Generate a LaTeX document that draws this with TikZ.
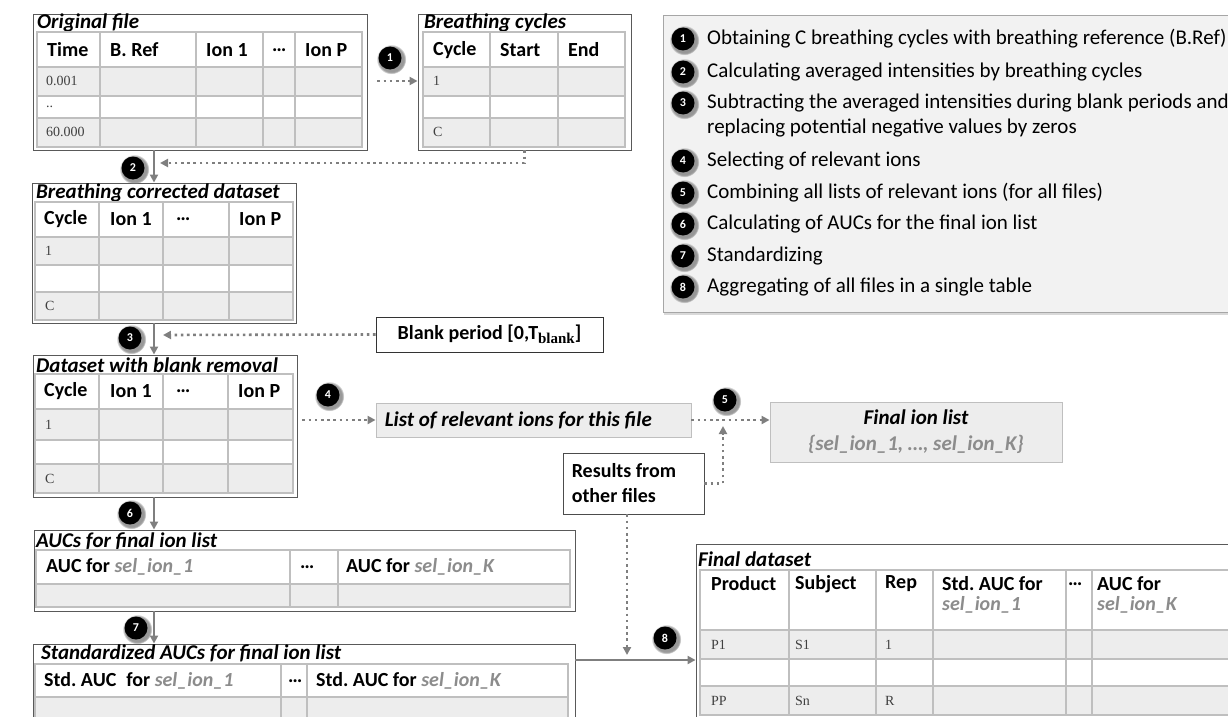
\documentclass[tikz,border=0pt]{standalone}
\usepackage{fontspec}
\setmainfont{Carlito}
\newfontfamily\cellfont{Liberation Serif}
\usetikzlibrary{arrows.meta,shadows}
\definecolor{cellgray}{HTML}{EDEDED}
\definecolor{gridgray}{HTML}{BFBFBF}
\definecolor{boxgray}{HTML}{595959}
\definecolor{flowgray}{HTML}{7F7F7F}
\definecolor{selgray}{HTML}{8C8C8C}
\definecolor{legendbg}{HTML}{F2F2F2}
\newcommand{\selion}[1]{\textcolor{selgray}{\itshape #1}}
\newcommand{\dtable}[7]{%
  \fill[cellgray] (#1,#4) rectangle (#2,#5);
  \fill[cellgray] (#1,#6) rectangle (#2,#7);
  \draw[grid] (#1,#3) rectangle (#2,#7);
  \draw[grid, line width=2pt] (#1,#4) -- (#2,#4);
  \draw[grid] (#1,#5) -- (#2,#5) (#1,#6) -- (#2,#6);}
\newcommand{\dcols}[3]{\foreach \cx in {#1} \draw[grid] (\cx,#2) -- (\cx,#3);}
\begin{document}
\begin{tikzpicture}[>={Triangle[length=8pt,width=8pt]}, x=1pt, y=-1pt,
  tablebox/.style={draw=boxgray, line width=0.9pt, fill=white, inner sep=0pt},
  grid/.style={draw=gridgray, line width=1.2pt},
  title/.style={anchor=west, inner sep=0pt, font=\fontsize{21}{25}\selectfont\bfseries\itshape},
  head/.style={anchor=west, inner sep=0pt, font=\fontsize{20}{24}\selectfont\bfseries},
  cell/.style={anchor=west, inner sep=0pt, font=\fontsize{14}{16}\selectfont\cellfont, text=black!75},
  badge/.style={circle, fill=black, text=white, minimum size=23pt, inner sep=0pt,
    font=\fontsize{12}{12}\selectfont\bfseries,
    circular drop shadow={shadow xshift=1pt, shadow yshift=-1pt, shadow scale=1.3, opacity=0.8}},
  flow/.style={->, draw=flowgray, line width=2pt},
  dotflow/.style={->, draw=flowgray, line width=2.6pt, dash pattern=on 2.6pt off 3.6pt},
  legtext/.style={anchor=west, inner sep=0pt, align=left, font=\fontsize{21}{25}\selectfont}]
\useasboundingbox (0,0) rectangle (1228,717);
\clip (0,0) rectangle (1228,717);

% original file
\node[tablebox, minimum width=334pt, minimum height=136pt] (orig) at (200,82) {};
\node[title] (orig-t) at (37,23) {Original file};
\dtable{37}{362}{32}{67}{96}{118}{147}
\dcols{100,196,263,295}{32}{147}
\node[head] (orig-h1) at (47,50) {Time};
\node[head] (orig-h2) at (110,50) {B. Ref};
\node[head] (orig-h3) at (206,50) {Ion 1};
\node[head] (orig-h4) at (272,50) {\ldots};
\node[head] (orig-h5) at (305,50) {Ion P};
\node[cell] (orig-r1) at (46,81) {0.001};
\node[cell] (orig-r2) at (46,107) {..};
\node[cell] (orig-r3) at (46,132) {60.000};

% breathing cycles
\node[tablebox, minimum width=213pt, minimum height=136pt] (bc) at (524.5,82) {};
\node[title] (bc-t) at (424,23) {Breathing cycles};
\dtable{423}{625}{32}{67}{96}{118}{147}
\dcols{490,558}{32}{147}
\node[head] (bc-h1) at (433,50) {Cycle};
\node[head] (bc-h2) at (500,50) {Start};
\node[head] (bc-h3) at (568,50) {End};
\node[cell] (bc-r1) at (433,81) {1};
\node[cell] (bc-r3) at (433,132) {C};

% breathing corrected dataset
\node[tablebox, minimum width=264pt, minimum height=140pt] (bcd) at (164,253) {};
\node[title] (bcd-t) at (36,193) {Breathing corrected dataset};
\dtable{35}{293}{202}{237}{265}{292}{320}
\dcols{99,163,229}{202}{320}
\node[head] (bcd-h1) at (44,219.5) {Cycle};
\node[head] (bcd-h2) at (110,219.5) {Ion 1};
\node[head] (bcd-h3) at (176,219.5) {\ldots};
\node[head] (bcd-h4) at (239,219.5) {Ion P};
\node[cell] (bcd-r1) at (45,251) {1};
\node[cell] (bcd-r3) at (45,306) {C};

% dataset with blank removal
\node[tablebox, minimum width=264pt, minimum height=142pt] (dbr) at (165,426) {};
\node[title] (dbr-t) at (36,365) {Dataset with blank removal};
\dtable{35}{293}{374}{409}{440}{464}{493}
\dcols{99,163,228}{374}{493}
\node[head] (dbr-h1) at (44,391.5) {Cycle};
\node[head] (dbr-h2) at (110,391.5) {Ion 1};
\node[head] (dbr-h3) at (176,391.5) {\ldots};
\node[head] (dbr-h4) at (238,391.5) {Ion P};
\node[cell] (dbr-r1) at (45,424.5) {1};
\node[cell] (dbr-r3) at (45,478.5) {C};

% AUCs
\node[tablebox, minimum width=541pt, minimum height=81pt] (auc) at (304.5,570.5) {};
\node[title] (auc-t) at (36,541) {AUCs for final ion list};
\fill[cellgray] (36,584) rectangle (570,607);
\draw[grid] (36,550) rectangle (570,607);
\draw[grid, line width=2pt] (36,584) -- (570,584);
\dcols{290,338}{550}{607}
\node[head] (auc-h1) at (46,567) {AUC for \selion{sel\_ion\_1}};
\node[head] (auc-h2) at (300,567) {\ldots};
\node[head] (auc-h3) at (346,567) {AUC for \selion{sel\_ion\_K}};

% standardized AUCs
\node[tablebox, minimum width=542pt, minimum height=91pt] (std) at (304,689.5) {};
\node[title] (std-t) at (41,653) {Standardized AUCs for final ion list};
\fill[cellgray] (35,697) rectangle (568,735);
\draw[grid] (35,664) rectangle (568,735);
\draw[grid, line width=2pt] (35,697) -- (568,697);
\dcols{281,307}{664}{735}
\node[head] (std-h1) at (44,681) {Std.\ AUC\enspace for \selion{sel\_ion\_1}};
\node[head] (std-h2) at (288,681) {\ldots};
\node[head] (std-h3) at (316,681) {Std.\ AUC for \selion{sel\_ion\_K}};

% final dataset
\node[tablebox, minimum width=544pt, minimum height=191pt] (fds) at (968,639.5) {};
\node[title] (fds-t) at (698,559) {Final dataset};
\dtable{700}{1240}{570}{630}{659}{686}{715}
\dcols{789,876,933,1066,1092}{570}{715}
\node[head] (fds-h1) at (711,584) {Product};
\node[head] (fds-h2) at (795,584) {Subject};
\node[head] (fds-h3) at (885,584) {Rep};
\node[head] (fds-h4) at (942,584) {Std.\ AUC for};
\node[head] (fds-h5) at (1068,584) {\ldots};
\node[head] (fds-h6) at (1097,584) {AUC for};
\node[head] (fds-s4) at (942,605) {\selion{sel\_ion\_1}};
\node[head] (fds-s6) at (1097,605) {\selion{sel\_ion\_K}};
\node[cell] (fds-a1) at (711,644.5) {P1};
\node[cell] (fds-a2) at (795,644.5) {S1};
\node[cell] (fds-a3) at (885,644.5) {1};
\node[cell] (fds-c1) at (711,700.5) {PP};
\node[cell] (fds-c2) at (795,700.5) {Sn};
\node[cell] (fds-c3) at (885,700.5) {R};

% other boxes
\node[draw=black!80, line width=0.9pt, fill=white, minimum width=227pt, minimum height=35pt,
  inner sep=0pt, font=\fontsize{20}{24}\selectfont\bfseries] (blank) at (489.5,334.5)
  {Blank period [0,T\raisebox{-4pt}{\fontsize{15}{15}\selectfont\cellfont\bfseries blank}]};
\node[draw=gridgray, line width=0.9pt, fill=cellgray, minimum width=315pt, minimum height=34pt,
  inner sep=0pt] (list) at (533.5,420) {};
\node[title] (list-t) at ([xshift=9pt]list.west) {List of relevant ions for this file};
\node[draw=gridgray, line width=0.9pt, fill=cellgray, minimum width=292pt, minimum height=60pt,
  inner sep=0pt, align=center, font=\fontsize{21}{26}\selectfont\bfseries\itshape]
  (fil) at (916,432) {Final ion list\\\textcolor{selgray}{\{sel\_ion\_1, \ldots, sel\_ion\_K\}}};
\node[draw=black!70, line width=0.9pt, fill=white, minimum width=141pt, minimum height=61pt,
  inner sep=0pt] (res) at (633.5,483.5) {};
\node[anchor=west, inner sep=0pt, align=left, font=\fontsize{20}{25}\selectfont\bfseries]
  (res-t) at ([xshift=9pt]res.west) {Results from\\other files};

% legend
\node[draw=gray!70, line width=0.9pt, fill=legendbg, minimum width=577pt, minimum height=297pt,
  drop shadow={shadow xshift=1pt, shadow yshift=-3pt, opacity=0.3}] (legend) at (951.5,163.5) {};
\foreach \n/\yy/\txt in {1/39/{Obtaining C breathing cycles with breathing reference (B.Ref)},
    2/72/{Calculating averaged intensities by breathing cycles},
    4/161/{Selecting of relevant ions},
    5/193/{Combining all lists of relevant ions (for all files)},
    6/224/{Calculating of AUCs for the final ion list},
    7/256/{Standardizing},
    8/287/{Aggregating of all files in a single table}} {
  \node[badge] (legb-\n) at (683,\yy) {\n};
  \node[legtext] (leg-\n) at (707,\yy) {\txt};
}
\node[badge] (legb-3) at (683,103) {3};
\node[legtext] (leg-3) at (707,115.5) {Subtracting the averaged intensities during blank periods and\\replacing potential negative values by zeros};

% connectors
\coordinate (spine) at (154,0);
\coordinate (j2) at (160,163);
\coordinate (j3) at (163,335);
\coordinate (j5) at (723,420);
\coordinate (j8) at (627,660);
\draw[flow] (orig.south -| spine) -- (bcd.north -| spine);
\draw[flow] (bcd.south -| spine) -- (dbr.north -| spine);
\draw[flow] (dbr.south -| spine) -- (auc.north -| spine);
\draw[flow] (auc.south -| spine) -- (std.north -| spine);
\draw[dotflow] ([xshift=10pt]orig.east |- bc-r1) -- (bc.west |- bc-r1);
\draw[dotflow] (bc.south) |- (j2);
\draw[dotflow] (blank.west) -- (j3);
\draw[dotflow] ([xshift=5pt]dbr.east |- list.west) -- (list.west);
\draw[dotflow] (list.east) -- (list.east -| fil.west);
\draw[dotflow] (res.east) -| ([yshift=-6pt]j5);
\draw[dotflow] (res.south -| j8) -- ([yshift=5pt]j8);
\draw[flow] (std.east |- j8) -- (fds.west |- j8);

% step badges
\node[badge] (s1) at (390,58) {1};
\node[badge] (s2) at (133,168) {2};
\node[badge] (s3) at (130,338) {3};
\node[badge] (s4) at (328,395) {4};
\node[badge] (s5) at (725,400) {5};
\node[badge] (s6) at (130,513) {6};
\node[badge] (s7) at (136,628) {7};
\node[badge] (s8) at (665,638) {8};
\end{tikzpicture}
\end{document}
